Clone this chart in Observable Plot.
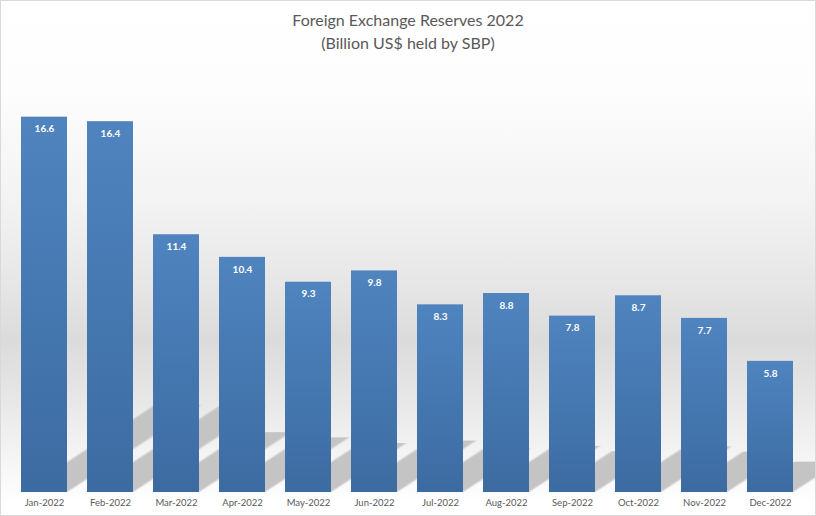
<!DOCTYPE html>
<html>
<head>
<meta charset="utf-8">
<script src="https://cdn.jsdelivr.net/npm/d3@7"></script>
<script src="https://cdn.jsdelivr.net/npm/@observablehq/plot@0.6"></script>
<style>
  html, body { margin: 0; padding: 0; background: #fff; }
  #wrap {
    position: relative; width: 816px; height: 516px; overflow: hidden;
    background: linear-gradient(to bottom, #ffffff 0px, #fdfdfd 90px, #f3f3f3 200px, #e7e7e7 280px, #dbdbdb 340px, #e6e6e6 395px, #f3f3f3 450px, #fcfcfc 490px, #ffffff 500px);
    font-family: "Lato", "Open Sans", sans-serif;
  }
  #frame { position: absolute; left: 0; top: 0; width: 816px; height: 516px; box-sizing: border-box; border: 1px solid #d9d9d9; pointer-events: none; }
  #title { position: absolute; left: 0; top: 8px; width: 816px; text-align: center; color: #595959; font-size: 16px; line-height: 23px; }
  #chart { position: absolute; left: 0; top: 0; }
</style>
</head>
<body>
<div id="wrap">
  <div id="title">Foreign Exchange Reserves 2022<br>(Billion US$ held by SBP)</div>
  <div id="chart"></div>
  <div id="frame"></div>
</div>
<script>
const months = ["Jan-2022","Feb-2022","Mar-2022","Apr-2022","May-2022","Jun-2022","Jul-2022","Aug-2022","Sep-2022","Oct-2022","Nov-2022","Dec-2022"];
const reserves = [16.6, 16.4, 11.4, 10.4, 9.3, 9.8, 8.3, 8.8, 7.8, 8.7, 7.7, 5.8];

const data = months.map((m, i) => ({month: m, value: reserves[i]}));

const chart = Plot.plot({
  width: 816,
  height: 516,
  marginTop: 85,
  marginBottom: 24,
  marginLeft: 11,
  marginRight: 12,
  style: {background: "transparent", fontFamily: "Lato, 'Open Sans', sans-serif", fontSize: "9.5px", color: "#595959", overflow: "visible"},
  x: {domain: months, paddingInner: 0.3, paddingOuter: 0.15, label: null, tickSize: 0, tickPadding: 7},
  y: {domain: [0, 18], axis: null},
  marks: [
    Plot.barY(data, {x: "month", y: "value", fill: "#c4c4c4"}),
    Plot.barY(data, {x: "month", y: "value", fill: "url(#barGrad)"}),
    Plot.text(data, {x: "month", y: "value", text: d => d.value.toFixed(1), dy: 12, fill: "white", fontWeight: "bold", fontSize: 10})
  ]
});

document.getElementById("chart").appendChild(chart);

const svg = d3.select(chart);
const defs = svg.insert("defs", ":first-child");
const grad = defs.append("linearGradient").attr("id", "barGrad").attr("x1", 0).attr("y1", 0).attr("x2", 0).attr("y2", 1);
grad.append("stop").attr("offset", "0%").attr("stop-color", "#4f84bf");
grad.append("stop").attr("offset", "100%").attr("stop-color", "#3c6ba1");
defs.append("filter").attr("id", "shadowBlur").attr("x", "-20%").attr("y", "-20%").attr("width", "140%").attr("height", "140%")
  .append("feGaussianBlur").attr("stdDeviation", 1.6);

const base = chart.scale("y").apply(0);
const a = 0.357, b = 0.232;
const barGroups = svg.selectAll("g").filter(function () { return this.querySelector(":scope > rect") !== null; }).nodes();
const shadowNode = barGroups[0];
const wrapper = d3.select(shadowNode.parentNode).insert("g", () => shadowNode)
  .attr("transform", `matrix(1,0,${-a},${b},${a * base},${(1 - b) * base})`)
  .attr("filter", "url(#shadowBlur)");
wrapper.node().appendChild(shadowNode);
</script>
</body>
</html>
